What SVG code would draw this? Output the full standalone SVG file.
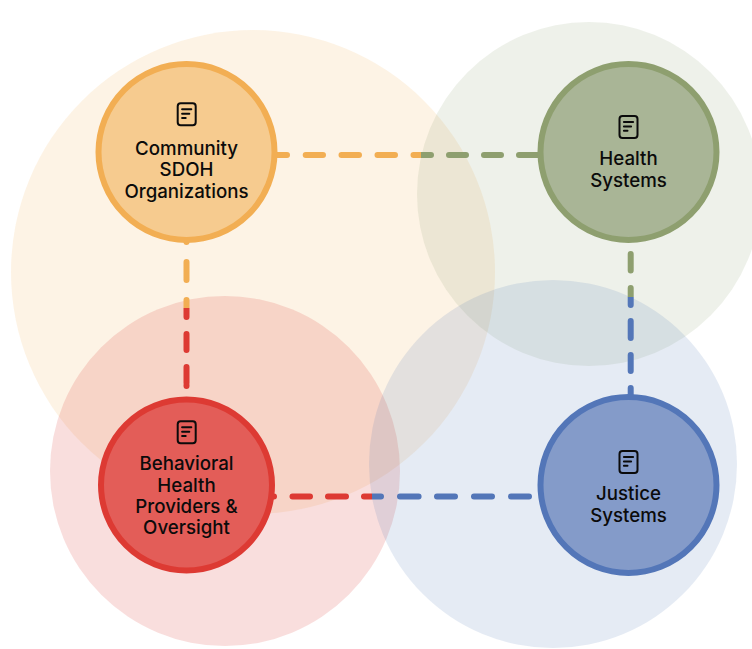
<svg xmlns="http://www.w3.org/2000/svg" width="752" height="649" viewBox="0 0 752 649">
<style>
.halo{stroke:none}
.node{stroke-width:6}
.lbl{font-family:"Inter","Liberation Sans",sans-serif;font-size:18.7px;font-weight:500;fill:#0b0b0b;text-anchor:middle}
.conn{fill:none;stroke-width:6;stroke-linecap:round}
.ic{fill:none;stroke:#0b0b0b;stroke-width:2;stroke-linecap:round}
</style>
<defs>
<linearGradient id="gTop" gradientUnits="userSpaceOnUse" x1="273" y1="0" x2="540" y2="0"><stop offset="0.5555" stop-color="#F2AE53"/><stop offset="0.5555" stop-color="#8E9F6F"/></linearGradient>
<linearGradient id="gLeft" gradientUnits="userSpaceOnUse" x1="0" y1="240" x2="0" y2="386"><stop offset="0.4658" stop-color="#F2AE53"/><stop offset="0.4658" stop-color="#DD3A33"/></linearGradient>
<linearGradient id="gRight" gradientUnits="userSpaceOnUse" x1="0" y1="254" x2="0" y2="400"><stop offset="0.2945" stop-color="#8E9F6F"/><stop offset="0.2945" stop-color="#5376B8"/></linearGradient>
<linearGradient id="gBottom" gradientUnits="userSpaceOnUse" x1="270" y1="0" x2="532" y2="0"><stop offset="0.3908" stop-color="#DD3A33"/><stop offset="0.3908" stop-color="#5376B8"/></linearGradient>
<g id="doc" class="ic">
<rect x="-9" y="-11" width="18" height="22" rx="3"/>
<path d="M-4.6-5H4.6M-4.6-.6H2.6M-4.6 3.8H-1"/>
</g>
</defs>
<g id="halos">
<circle class="halo" cx="253" cy="272" r="242" fill="#F2AE53" fill-opacity=".15"/>
<circle class="halo" cx="589" cy="194" r="172" fill="#8E9F6F" fill-opacity=".15"/>
<circle class="halo" cx="225" cy="471" r="175" fill="#DD3A33" fill-opacity=".17"/>
<circle class="halo" cx="553" cy="464" r="184" fill="#5376B8" fill-opacity=".15"/>
</g>
<g id="connectors">
<line class="conn" x1="273" y1="155" x2="540" y2="155" stroke="url(#gTop)" stroke-dasharray="14 18.7 17.3 18.5 17.5 18.5 17.5 18.5 17.5 18 17 18 17 18 21"/>
<line class="conn" x1="186.5" y1="240" x2="186.5" y2="386" stroke="url(#gLeft)" stroke-dasharray="2 20 18 20 17 17 16 17 16"/>
<line class="conn" x1="630.7" y1="254" x2="630.7" y2="400" stroke="url(#gRight)" stroke-dasharray="16.5 17.5 17 16 17 17 16 17 12"/>
<line class="conn" x1="270" y1="496.5" x2="532" y2="496.5" stroke="url(#gBottom)" stroke-dasharray="4 18.5 17.5 18 18 18 17 19 18.6 18.4 18 19 18 19 18"/>
</g>
<g id="node-community">
<circle class="node" cx="186.5" cy="152" r="88" fill="#F6CB8F" stroke="#F2AE53"/>
<use href="#doc" x="186.7" y="114.3"/>
<text class="lbl" x="186.5" y="154.8">Community</text>
<text class="lbl" x="186.5" y="176.1">SDOH</text>
<text class="lbl" x="186.5" y="197.5">Organizations</text>
</g>
<g id="node-health">
<circle class="node" cx="628.5" cy="152" r="88" fill="#A9B596" stroke="#8E9F6F"/>
<use href="#doc" x="628.5" y="127"/>
<text class="lbl" x="628.5" y="165.3">Health</text>
<text class="lbl" x="628.5" y="186.6">Systems</text>
</g>
<g id="node-behavioral">
<circle class="node" cx="186.5" cy="485" r="85.5" fill="#E35D58" stroke="#DD3A33"/>
<use href="#doc" x="186.7" y="432.3"/>
<text class="lbl" x="186.5" y="470.3">Behavioral</text>
<text class="lbl" x="186.5" y="491.6">Health</text>
<text class="lbl" x="186.5" y="512.9">Providers &amp;</text>
<text class="lbl" x="186.5" y="534.3">Oversight</text>
</g>
<g id="node-justice">
<circle class="node" cx="628.5" cy="485" r="88" fill="#849BC9" stroke="#5376B8"/>
<use href="#doc" x="628.5" y="462"/>
<text class="lbl" x="628.5" y="500.3">Justice</text>
<text class="lbl" x="628.5" y="521.6">Systems</text>
</g>
</svg>
